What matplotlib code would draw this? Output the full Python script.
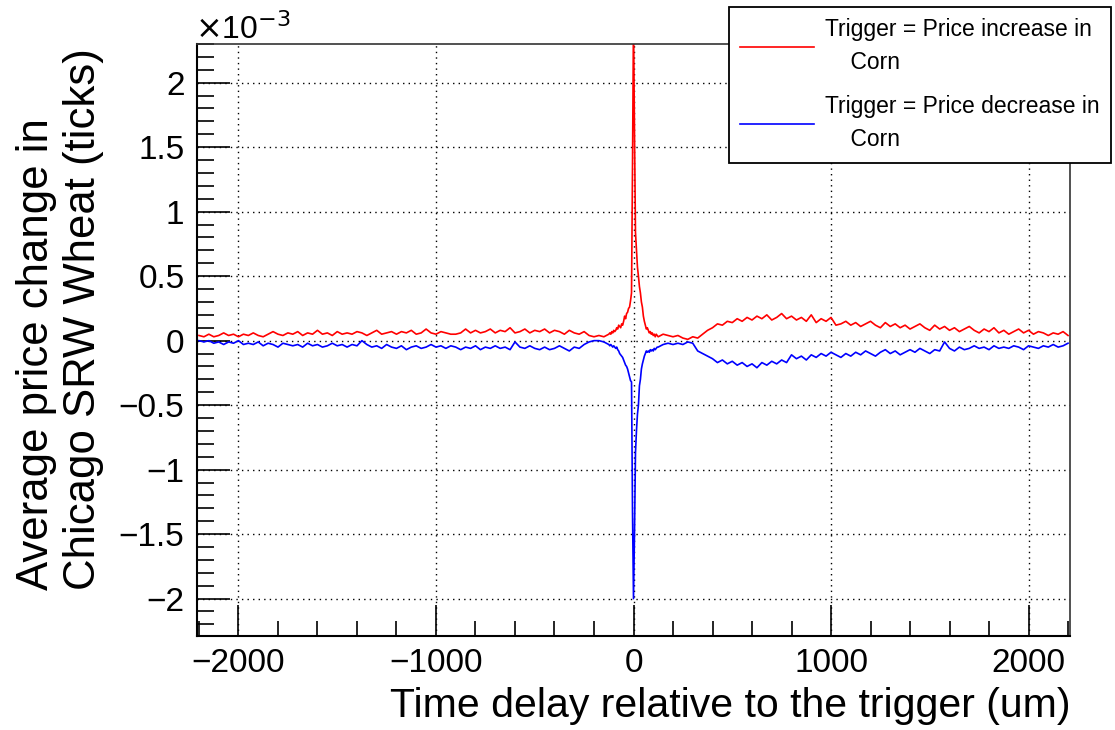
import numpy as np
import matplotlib
matplotlib.use("Agg")
import matplotlib.pyplot as plt
from matplotlib.ticker import MultipleLocator, FuncFormatter

# ---- data (price change in units of 1e-3 ticks) ----
x_left = np.arange(-2200, -125, 25)
x_center = np.arange(-125, 130, 5)
x_right = np.arange(150, 2201, 25)

red_left = [0.04, 0.03, 0.05, 0.03, 0.04, 0.06, 0.04, 0.05, 0.03, 0.05,
            0.04, 0.06, 0.04, 0.03, 0.05, 0.07, 0.05, 0.04, 0.06, 0.05,
            0.07, 0.04, 0.06, 0.05, 0.08, 0.05, 0.06, 0.04, 0.07, 0.05,
            0.06, 0.05, 0.07, 0.06, 0.04, 0.06, 0.08, 0.05, 0.06, 0.07,
            0.05, 0.07, 0.06, 0.08, 0.05, 0.06, 0.09, 0.06, 0.05, 0.07,
            0.06, 0.05, 0.05, 0.06, 0.09, 0.06, 0.08, 0.06, 0.07, 0.09,
            0.06, 0.08, 0.07, 0.10, 0.06, 0.07, 0.09, 0.06, 0.08, 0.07,
            0.09, 0.06, 0.08, 0.07, 0.05, 0.08, 0.06, 0.05, 0.07, 0.04,
            0.03, 0.04, 0.03]
red_center = [0.05, 0.06, 0.05, 0.07, 0.06, 0.08, 0.07, 0.08, 0.10, 0.09,
              0.12, 0.11, 0.10, 0.13, 0.12, 0.15, 0.19, 0.17, 0.21, 0.22,
              0.25, 0.26, 0.31, 0.37, 1.36, 2.50, 1.62, 0.84, 0.70, 0.57,
              0.50, 0.42, 0.37, 0.30, 0.26, 0.19, 0.15, 0.12, 0.09, 0.10,
              0.08, 0.06, 0.07, 0.05, 0.06, 0.04, 0.05, 0.03, 0.05, 0.04, 0.03]
red_right = [0.05, 0.04, 0.03, 0.04, 0.02, 0.01, 0.03, 0.02, 0.05, 0.08,
             0.10, 0.13, 0.12, 0.15, 0.14, 0.17, 0.15, 0.18, 0.16, 0.19,
             0.17, 0.20, 0.16, 0.18, 0.21, 0.17, 0.19, 0.16, 0.18, 0.15,
             0.20, 0.14, 0.17, 0.15, 0.18, 0.12, 0.13, 0.15, 0.12, 0.14,
             0.11, 0.13, 0.15, 0.12, 0.10, 0.14, 0.11, 0.13, 0.10, 0.12,
             0.09, 0.11, 0.13, 0.10, 0.08, 0.12, 0.09, 0.11, 0.08, 0.10,
             0.07, 0.09, 0.11, 0.08, 0.06, 0.09, 0.07, 0.10, 0.06, 0.08,
             0.05, 0.07, 0.09, 0.06, 0.08, 0.05, 0.07, 0.06, 0.04, 0.06,
             0.05, 0.07, 0.04]

blue_left = [0.00, -0.01, 0.00, -0.02, -0.01, -0.03, -0.01, -0.02, 0.00, -0.03,
             -0.02, -0.03, -0.01, -0.04, -0.02, -0.03, -0.05, -0.02, -0.03, -0.04,
             -0.03, -0.05, -0.02, -0.04, -0.03, -0.05, -0.04, -0.02, -0.04, -0.03,
             -0.05, -0.03, -0.04, 0.00, -0.03, -0.05, -0.04, -0.06, -0.03, -0.05,
             -0.06, -0.04, -0.07, -0.05, -0.04, -0.06, -0.05, -0.03, -0.05, -0.04,
             -0.06, -0.04, -0.05, -0.07, -0.05, -0.06, -0.04, -0.07, -0.05, -0.06,
             -0.04, -0.06, -0.05, -0.07, -0.01, -0.05, -0.06, -0.04, -0.06, -0.07,
             -0.05, -0.07, -0.06, -0.04, -0.06, -0.08, -0.05, -0.06, -0.03, -0.01,
             0.00, 0.00, -0.01]
blue_center = [-0.03, -0.04, -0.03, -0.04, -0.05, -0.04, -0.05, -0.06, -0.05, -0.07,
               -0.08, -0.10, -0.11, -0.12, -0.13, -0.15, -0.17, -0.19, -0.20, -0.22,
               -0.25, -0.28, -0.31, -0.32, -1.33, -2.00, -1.50, -0.87, -0.70, -0.57,
               -0.50, -0.35, -0.30, -0.22, -0.18, -0.15, -0.12, -0.10, -0.08, -0.09,
               -0.08, -0.09, -0.07, -0.08, -0.07, -0.08, -0.06, -0.07, -0.06, -0.05, -0.05]
blue_right = [-0.03, -0.02, -0.03, -0.02, -0.03, -0.01, -0.02, -0.08, -0.10, -0.12,
              -0.14, -0.17, -0.15, -0.18, -0.16, -0.19, -0.17, -0.20, -0.18, -0.21,
              -0.17, -0.19, -0.16, -0.18, -0.15, -0.17, -0.11, -0.14, -0.12, -0.15,
              -0.11, -0.13, -0.10, -0.12, -0.09, -0.11, -0.13, -0.10, -0.12, -0.09,
              -0.11, -0.08, -0.10, -0.12, -0.09, -0.07, -0.10, -0.08, -0.11, -0.09,
              -0.07, -0.09, -0.06, -0.08, -0.10, -0.07, -0.08, -0.01, -0.06, -0.08,
              -0.05, -0.07, -0.06, -0.04, -0.06, -0.05, -0.07, -0.04, -0.06, -0.05,
              -0.06, -0.04, -0.05, -0.07, -0.04, -0.05, -0.06, -0.04, -0.05, -0.03,
              -0.05, -0.04, -0.02]

label_up = "Trigger = Price increase in\n    Corn"
label_down = "Trigger = Price decrease in\n    Corn"
xlabel = "Time delay relative to the trigger (um)"
ylabel = "Average price change in\nChicago SRW Wheat (ticks)"

x = np.concatenate([x_left, x_center, x_right])
red = np.array(red_left + red_center + red_right)
blue = np.array(blue_left + blue_center + blue_right)

plt.rcParams['font.family'] = ['Liberation Sans', 'DejaVu Sans']

fig = plt.figure(figsize=(11.15, 7.30), dpi=100)
ax = fig.add_axes([197/1115, 1-636/730, (1070-197)/1115, (636-44)/730])

ax.plot(x, red, color='#ff0000', lw=1.2, label=label_up)
ax.plot(x, blue, color='#0000ff', lw=1.2, label=label_down)

ax.set_xlim(-2210, 2210)
ax.set_ylim(-2.29, 2.30)

ax.xaxis.set_major_locator(MultipleLocator(1000))
ax.xaxis.set_minor_locator(MultipleLocator(200))
ax.yaxis.set_major_locator(MultipleLocator(0.5))
ax.yaxis.set_minor_locator(MultipleLocator(0.1))
fmt = FuncFormatter(lambda v, p: ('%g' % v).replace('-', '\u2212'))
ax.xaxis.set_major_formatter(fmt)
ax.yaxis.set_major_formatter(fmt)

ax.tick_params(which='both', direction='in', top=False, right=False, labelsize=24, width=1.2)
ax.tick_params(axis='y', which='major', length=24, pad=9)
ax.tick_params(axis='y', which='minor', length=12)
ax.tick_params(axis='x', which='major', length=22, pad=9)
ax.tick_params(axis='x', which='minor', length=11)

ax.grid(True, which='major', color='black', linestyle=(0, (1, 3)), lw=1.0)

for s in ['left', 'bottom']:
    ax.spines[s].set_linewidth(1.5)
for s in ['top', 'right']:
    ax.spines[s].set_linewidth(1.2)
    ax.spines[s].set_color('#333333')

fig.text(195/1115, 1-46/730, r'$\times$10$^{-3}$', fontsize=23, ha='left', va='bottom')

fig.text(1070/1115, 1-706/730, xlabel, fontsize=29.5, ha='right', va='center')
fig.text(60/1115, 1-48/730, ylabel, fontsize=31.5, rotation=90, ha='center', va='top',
         multialignment='left', linespacing=1.17)

leg = fig.legend(loc='upper left', bbox_to_anchor=(729/1115, 1-7/730), fontsize=16.5,
                 frameon=True, fancybox=False, edgecolor='black', framealpha=1,
                 borderaxespad=0, handlelength=3.2, handletextpad=0.5,
                 labelspacing=0.92, borderpad=0.5)
leg.get_frame().set_linewidth(1.3)
for t in leg.get_texts():
    t.set_linespacing(1.55)

fig.savefig('out.png', dpi=100)
